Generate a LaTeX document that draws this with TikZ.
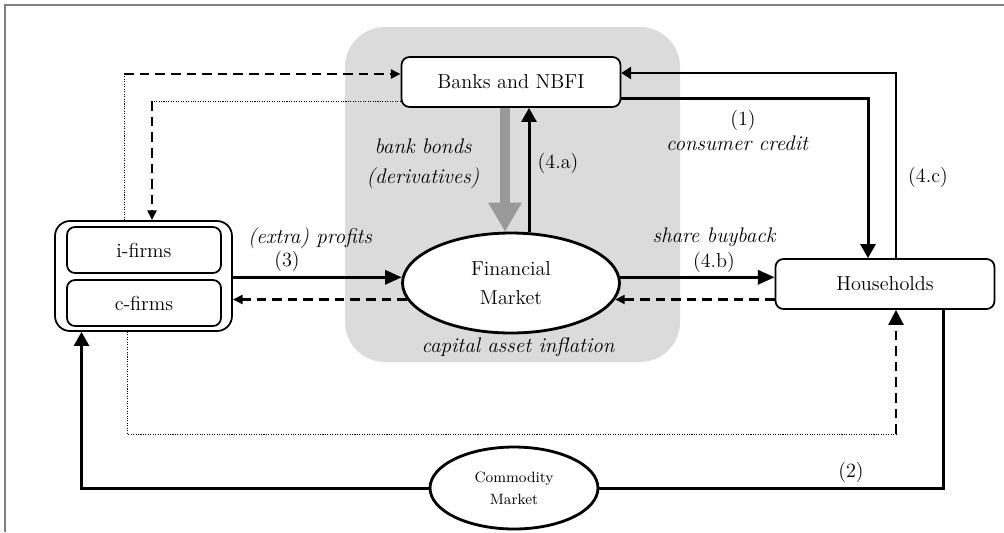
\documentclass[tikz,border=0pt]{standalone}
\usetikzlibrary{calc,arrows.meta,shapes.geometric}

\begin{document}
\begin{tikzpicture}[x=0.02cm, y=-0.02cm,
    box/.style={draw, line width=1pt, rounded corners=0.16cm, fill=white, minimum width=4.38cm, minimum height=1cm, font=\fontsize{11.5}{13}\selectfont},
    firmbox/.style={box, minimum width=3.08cm, minimum height=0.92cm},
    market/.style={draw, ellipse, line width=1.6pt, fill=white, align=center, inner sep=0pt},
    lbl/.style={font=\fontsize{11.5}{17}\selectfont, align=center, inner sep=1pt},
    ilbl/.style={lbl, font=\fontsize{12}{17}\selectfont\itshape},
    solid line/.style={line width=1.7pt},
    big arrow/.style={solid line, -{Triangle[length=8pt,width=8.5pt]}},
    thin arrow/.style={line width=0.6pt, -{Triangle[length=5.5pt,width=7pt]}},
    dash arrow/.style={line width=1.4pt, dash pattern=on 5.5pt off 3.4pt, -{Triangle[length=5.5pt,width=5pt]}},
    dot line/.style={line width=0.5pt, dash pattern=on 0.6pt off 0.8pt}]
    \path [use as bounding box] (0,0) rectangle (1004,532);
    \draw[gray, line width=0.6pt] (5,532) -- (5,5) -- (1004,5);
    \fill[black!14, rounded corners=0.8cm] (345,27) rectangle (680,362);
    \node[box]                        (banks) at (511,82)   {Banks and NBFI};
    \node[box]                        (house) at (885,284)  {Households};
    \node[draw, line width=1pt, rounded corners=0.3cm, minimum width=3.54cm, minimum height=2.2cm] (firms) at (143.5,276) {};
    \node[firmbox]                    (ifirms) at (144,250) {i-firms};
    \node[firmbox]                    (cfirms) at (144,303) {c-firms};
    \node[market, minimum width=4.34cm, minimum height=2cm, font=\fontsize{11.5}{16.5}\selectfont] (fin) at (511,283) {Financial\\Market};
    \node[market, minimum width=3.36cm, minimum height=1.64cm, font=\fontsize{8.5}{12.5}\selectfont] (comm) at (514,488) {Commodity\\Market};
    \coordinate (tl)  at (124,74);
    \coordinate (tl2) at (152,101);
    \coordinate (bl)  at (127,434);
    \coordinate (br)  at (896,434);
    \draw[big arrow] ($(banks.east)+(0,16)$) -| ($(house.north)+(-17,0)$);
    \draw[thin arrow] ($(house.north)+(11,0)$) |- ($(banks.east)+(0,-9)$);
    \draw[dot line] (firms.north -| tl) -- (tl);
    \draw[dash arrow] (tl) -- (banks.west |- tl);
    \draw[dot line] (banks.west |- tl2) -- (tl2);
    \draw[dash arrow] (tl2) -- (firms.north -| tl2);
    \draw[black!40, line width=5.7pt, -{Triangle[length=16.5pt,width=18pt]}] ($(banks.south)+(-6,0)$) -- ($(fin.north)+(-6,0)$);
    \draw[big arrow] ($(fin.north)+(18,0)$) -- ($(banks.south)+(18,0)$);
    \draw[big arrow, -{Triangle[length=9.5pt,width=8pt]}] (firms.east |- fin.177) -- (fin.177);
    \draw[dash arrow] (fin.189) -- (firms.east |- fin.189);
    \draw[big arrow, -{Triangle[length=9.5pt,width=8pt]}] (fin.3) -- (house.west |- fin.3);
    \draw[dash arrow] (house.west |- fin.351) -- (fin.351);
    \draw[dot line] (firms.south -| bl) -- (bl) -- (br);
    \draw[dash arrow, -{Triangle[length=8.5pt,width=8.5pt]}] (br) -- (house.south -| br);
    \draw[solid line] ($(house.south)+(58,0)$) |- (comm.east);
    \draw[big arrow] (comm.west) -| ($(firms.south)+(-62,0)$);
    \node[lbl]  (n1)  at (743,120) {(1)};
    \node[ilbl] (cc)  at (737,143) {consumer credit};
    \node[lbl]  (n4c) at (928,177) {(4.c)};
    \node[ilbl] (bb)  at (423,164) {bank bonds\\(derivatives)};
    \node[lbl]  (n4a) at (558,163) {(4.a)};
    \node[ilbl] (ep)  at (310,238) {(extra) profits};
    \node[lbl]  (n3)  at (287,261) {(3)};
    \node[ilbl] (sb)  at (714,237) {share buyback};
    \node[lbl]  (n4b) at (714,262) {(4.b)};
    \node[ilbl] (cai) at (518,347) {capital asset inflation};
    \node[lbl]  (n2)  at (851,472) {(2)};
\end{tikzpicture}
\end{document}
